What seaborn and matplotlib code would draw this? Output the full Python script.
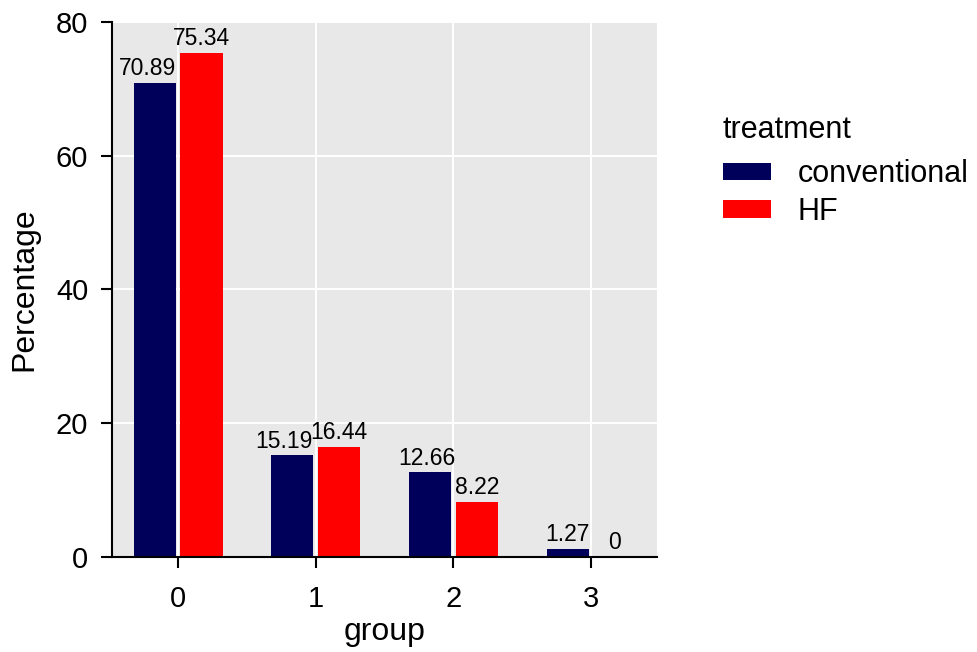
import pandas as pd
import matplotlib
matplotlib.use('Agg')
import matplotlib.pyplot as plt
import seaborn as sns

# Values
groups = ['0', '1', '2', '3']
treatments = ['conventional', 'HF']
conventional = [70.89, 15.19, 12.66, 1.27]
hf = [75.34, 16.44, 8.22, 0]
colors = ['#00005a', '#ff0000']

df = pd.DataFrame({
    'group': groups * 2,
    'treatment': ['conventional'] * 4 + ['HF'] * 4,
    'Percentage': conventional + hf,
})

sns.set_theme(style='darkgrid', rc={
    'axes.facecolor': '#e8e8e8',
    'grid.color': 'white',
    'grid.linewidth': 1.4,
    'text.color': 'black',
    'axes.labelcolor': 'black',
})
plt.rcParams['font.family'] = ['Liberation Sans', 'DejaVu Sans']

fig = plt.figure(figsize=(9.77, 6.52), dpi=100)
ax = fig.add_axes([0.1146, 0.1457, 0.558, 0.8206])

sns.barplot(data=df, x='group', y='Percentage', hue='treatment',
            hue_order=treatments, order=groups, palette=colors,
            saturation=1, width=0.68, gap=0.1, edgecolor='none', ax=ax)

# value labels; the left-hand labels are nudged left a little, as in the original
nudge = [[-5.4, -6.1, -2.2, 0], [0, 0, 0, 0]]
for cont, dx in zip(ax.containers, nudge):
    anns = ax.bar_label(cont, fmt='%g', padding=2, fontsize=16.5, color='black')
    for ann, d in zip(anns, dx):
        ann.xyann = (d, ann.xyann[1])

ax.set_ylim(0, 80)
ax.set_xlim(-0.48, 3.48)
ax.set_yticks([0, 20, 40, 60, 80])
ax.set_xlabel('group', fontsize=23, color='black', labelpad=3)
ax.set_ylabel('Percentage', fontsize=23, color='black', labelpad=12)
ax.tick_params(axis='both', labelsize=21, colors='black', length=8,
               width=1.5, direction='out', bottom=True, left=True)
ax.tick_params(axis='x', pad=12)
ax.tick_params(axis='y', pad=9)
ax.grid(True, color='white', linewidth=1.4)
ax.set_axisbelow(True)

for side in ['top', 'right']:
    ax.spines[side].set_visible(False)
for side in ['left', 'bottom']:
    ax.spines[side].set_visible(True)
    ax.spines[side].set_color('black')
    ax.spines[side].set_linewidth(1.5)

handles, labels = ax.get_legend_handles_labels()
ax.legend_.remove()
leg = fig.legend(handles, labels, loc='upper left',
                 bbox_to_anchor=(0.7242, 0.779), frameon=False, borderpad=0,
                 fontsize=22, handlelength=1.57, handleheight=0.52,
                 handletextpad=0.88, labelspacing=0.25)
fig.text(0.739, 0.788, 'treatment', fontsize=22, color='black', va='baseline')

fig.savefig('out.png', dpi=100)
